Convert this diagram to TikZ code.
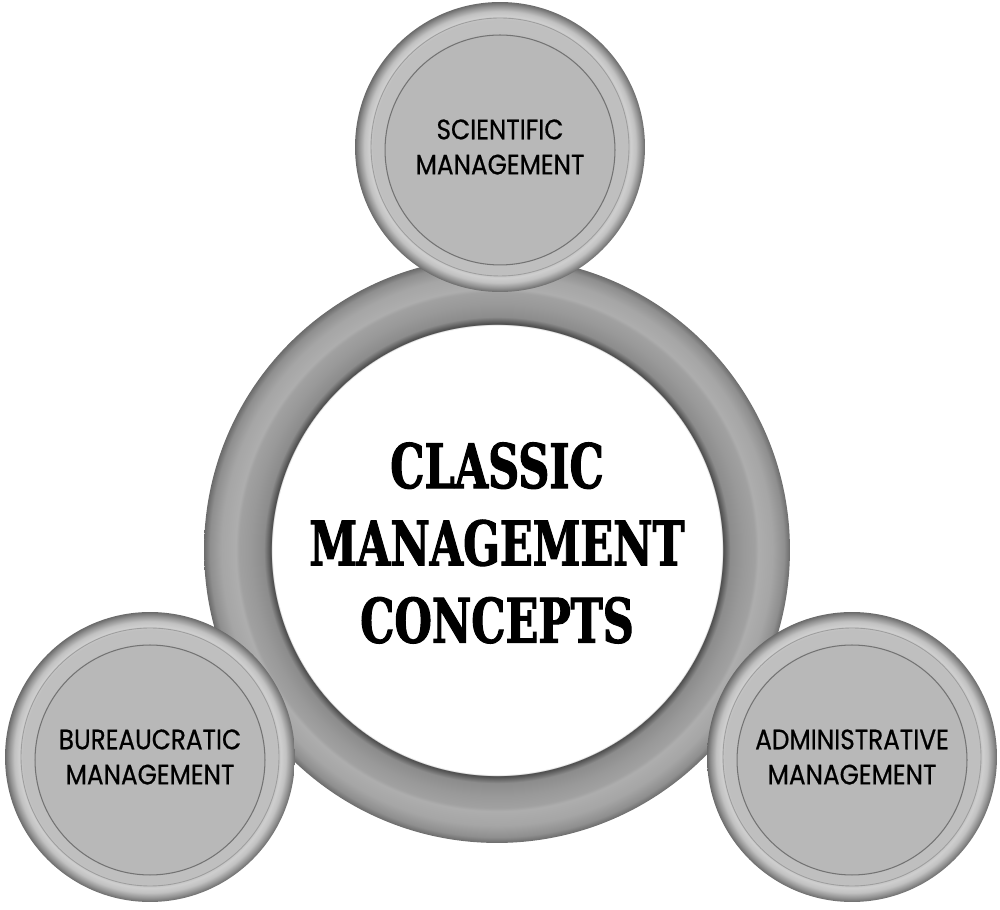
\documentclass[tikz,border=0pt]{standalone}
\usepackage{fontspec}
\newfontfamily\hubfont[FakeStretch=0.70,FakeBold=1.6]{DejaVu Serif}
\newfontfamily\badgefont[FakeStretch=0.88,FakeBold=0.6]{Poppins}
\definecolor{flatgray}{gray}{0.72}
% gray tube round the centre and bevelled rim of the badges
\pgfdeclareradialshading{torus}{\pgfpoint{0bp}{0bp}}{color(0bp)=(white); color(19.2bp)=(white); color(19.3bp)=(black!70); color(19.9bp)=(black!45); color(21bp)=(black!40); color(22bp)=(black!37); color(22.3bp)=(black!32); color(23.5bp)=(black!35); color(24.5bp)=(black!44); color(25bp)=(black!58); color(50bp)=(black!58)}
\pgfdeclareradialshading{badgerim}{\pgfpoint{0bp}{0bp}}{color(0bp)=(flatgray); color(22bp)=(black!25); color(22.6bp)=(black!19); color(23.4bp)=(black!24); color(24.3bp)=(black!42); color(25bp)=(black!58); color(50bp)=(black!58)}

\begin{document}
\begin{tikzpicture}[x=0.02cm, y=0.02cm,
	hub/.style={circle, minimum size=11.72cm, inner sep=0pt, shading=torus},
	title/.style={align=center, font=\hubfont\bfseries\fontsize{35}{44}\selectfont},
	badge/.style={circle, minimum size=5.8cm, inner sep=0pt, shading=badgerim, align=center, font=\badgefont\fontsize{16}{20}\selectfont,
		path picture={
			\draw[black!38, line width=0.5pt] (path picture bounding box.center) circle[radius=2.58cm];
			\draw[black!55, line width=0.6pt, fill=flatgray] ([yshift=-0.06cm]path picture bounding box.center) circle[radius=2.3cm];
		}}]
	\useasboundingbox (0,0) rectangle (1000,909);
	\node[hub] (hub) at (497,359) {};
	\node[title] (concepts) at ([yshift=0.14cm]hub.center) {CLASSIC\\MANAGEMENT\\CONCEPTS};
	\node[badge] (scientific) at (500,762) {SCIENTIFIC\\MANAGEMENT};
	\node[badge] (bureaucratic) at (150,152) {BUREAUCRATIC\\MANAGEMENT};
	\node[badge] (administrative) at (852,152) {ADMINISTRATIVE\\MANAGEMENT};
\end{tikzpicture}
\end{document}
